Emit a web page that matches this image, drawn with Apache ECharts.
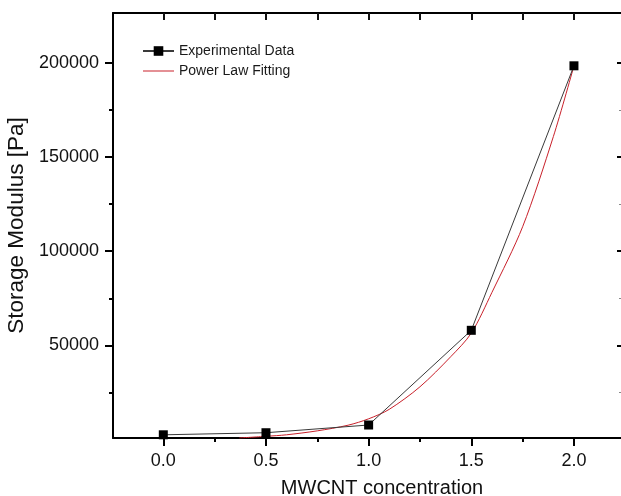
<!DOCTYPE html>
<html>
<head>
<meta charset="utf-8">
<script src="https://cdn.jsdelivr.net/npm/echarts@6/dist/echarts.min.js"></script>
<style>
  html, body { margin: 0; padding: 0; background: #fff; }
  #chart { width: 621px; height: 496px; }
</style>
</head>
<body>
<div id="chart"></div>
<script>
// MWCNT concentration (wt%) and measured storage modulus (Pa)
const concentration = [0.0, 0.5, 1.0, 1.5, 2.0];
const storageModulus = [2500, 3600, 7700, 58000, 198500];

// Power-law fitting curve, sampled along the concentration axis
const fitConcentration = [0.37, 0.5, 0.6, 0.75, 0.9, 1.0, 1.1, 1.25, 1.4, 1.5, 1.6, 1.75, 1.9, 2.0];
const fitModulus = [800, 1700, 2500, 4600, 7600, 11000, 16000, 28000, 44000, 56500, 78000, 113000, 161000, 198500];

// Tick positions
const xMajorTicks = [0.0, 0.5, 1.0, 1.5, 2.0];
const xMinorTicks = [0.25, 0.75, 1.25, 1.75];
const xTopTicks = [0.0, 0.25, 0.5, 0.75, 1.0, 1.25, 1.5, 1.75, 2.0];
const yMajorTicks = [50000, 100000, 150000, 200000];
const yMinorTicks = [25000, 75000, 125000, 175000];

const FONT = '"Liberation Sans", Arial, sans-serif';
const X_MIN = -0.245, X_MAX = 2.234;
const Y_MIN = 800, Y_MAX = 226550;

const chart = echarts.init(document.getElementById('chart'), null, { renderer: 'canvas' });

const axisLine = { show: true, onZero: false, lineStyle: { color: '#000', width: 2 } };
const hiddenLine = { show: false, onZero: false };

function xAxisBase(extra) {
  return Object.assign({
    type: 'value', min: X_MIN, max: X_MAX,
    splitLine: { show: false },
    axisLabel: { show: false },
    axisTick: { show: false },
    axisLine: hiddenLine
  }, extra);
}
function yAxisBase(extra) {
  return Object.assign({
    type: 'value', min: Y_MIN, max: Y_MAX,
    splitLine: { show: false },
    axisLabel: { show: false },
    axisTick: { show: false },
    axisLine: hiddenLine
  }, extra);
}

chart.setOption({
  backgroundColor: '#fff',
  animation: false,
  grid: { left: 113, right: -1, top: 13, bottom: 58, containLabel: false, outerBoundsMode: 'none' },
  legend: {
    orient: 'vertical',
    left: 137, top: 39,
    itemWidth: 31, itemHeight: 12, itemGap: 6,
    textStyle: { fontFamily: FONT, fontSize: 14, color: '#1a1a1a' },
    data: [
      { name: 'Experimental Data' },
      { name: 'Power Law Fitting', icon: 'path://M0,0L31,0L31,1L0,1Z' }
    ]
  },
  xAxis: [
    xAxisBase({
      position: 'bottom',
      axisLine: axisLine,
      axisTick: { show: true, inside: false, length: 8, customValues: xMajorTicks,
                  lineStyle: { color: '#000', width: 2 } },
      axisLabel: { show: true, customValues: xMajorTicks, margin: 14,
                   fontFamily: FONT, fontSize: 18, color: '#111',
                   formatter: v => Number(v).toFixed(1) },
      name: 'MWCNT concentration',
      nameLocation: 'middle',
      nameGap: 40,
      nameTextStyle: { fontFamily: FONT, fontSize: 20, color: '#111', padding: [0, 0, 0, 29] }
    }),
    xAxisBase({
      position: 'bottom',
      axisTick: { show: true, inside: false, length: 4, customValues: xMinorTicks,
                  lineStyle: { color: '#000', width: 2 } }
    }),
    // top frame: inward ticks on one axis, the frame line on another
    xAxisBase({
      position: 'top',
      axisTick: { show: true, inside: true, length: 7, customValues: xTopTicks,
                  lineStyle: { color: '#111', width: 2 } }
    }),
    xAxisBase({
      position: 'top',
      axisLine: axisLine
    })
  ],
  yAxis: [
    yAxisBase({
      position: 'left',
      axisLine: axisLine,
      axisTick: { show: true, inside: false, length: 8, customValues: yMajorTicks,
                  lineStyle: { color: '#000', width: 2 } },
      axisLabel: { show: true, customValues: yMajorTicks, margin: 14,
                   fontFamily: FONT, fontSize: 18, color: '#111',
                   formatter: v => String(Math.round(v)) },
      name: 'Storage Modulus [Pa]',
      nameLocation: 'middle',
      nameGap: 74,
      nameTextStyle: { fontFamily: FONT, fontSize: 22.5, color: '#111' }
    }),
    yAxisBase({
      position: 'left',
      axisTick: { show: true, inside: false, length: 4, customValues: yMinorTicks,
                  lineStyle: { color: '#000', width: 2 } }
    }),
    yAxisBase({
      position: 'right',
      axisLine: axisLine,
      axisTick: { show: true, inside: true, length: 5, customValues: yMajorTicks,
                  lineStyle: { color: '#000', width: 2 } }
    }),
    yAxisBase({
      position: 'right',
      axisTick: { show: true, inside: true, length: 3, customValues: yMinorTicks,
                  lineStyle: { color: '#888', width: 1 } }
    })
  ],
  series: [
    {
      name: 'Experimental Data',
      type: 'line',
      xAxisIndex: 0, yAxisIndex: 0,
      z: 3,
      data: concentration.map((c, i) => [c, storageModulus[i]]),
      symbol: 'rect',
      symbolSize: 9,
      itemStyle: { color: '#000' },
      lineStyle: { color: '#3a3a3a', width: 1 }
    },
    {
      name: 'Power Law Fitting',
      type: 'line',
      xAxisIndex: 0, yAxisIndex: 0,
      z: 2,
      data: fitConcentration.map((c, i) => [c, fitModulus[i]]),
      symbol: 'none',
      smooth: 0.3,
      itemStyle: { color: '#c8202a' },
      lineStyle: { color: '#c8202a', width: 1 }
    }
  ]
});
</script>
</body>
</html>
